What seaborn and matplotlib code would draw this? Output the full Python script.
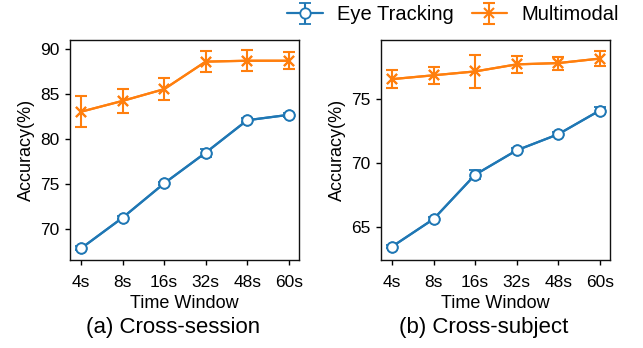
import numpy as np
import pandas as pd
import seaborn as sns
import matplotlib
matplotlib.use("Agg")
import matplotlib.pyplot as plt

windows = ["4s", "8s", "16s", "32s", "48s", "60s"]

eye_session = [67.9, 71.3, 75.1, 78.5, 82.1, 82.7]
eye_session_err = [0.2, 0.2, 0.2, 0.45, 0.2, 0.2]
mm_session = [83.05, 84.25, 85.55, 88.6, 88.7, 88.7]
mm_session_err = [1.75, 1.3, 1.2, 1.2, 1.15, 0.95]

eye_subject = [63.5, 65.65, 69.1, 71.0, 72.25, 74.1]
eye_subject_err = [0.15, 0.15, 0.35, 0.15, 0.15, 0.3]
mm_subject = [76.55, 76.85, 77.15, 77.7, 77.8, 78.15]
mm_subject_err = [0.68, 0.65, 1.3, 0.68, 0.5, 0.6]

sns.set_style("ticks")
plt.rcParams["font.family"] = ["Liberation Sans", "DejaVu Sans"]
plt.rcParams["text.color"] = "black"
plt.rcParams["axes.labelcolor"] = "black"

blue = "#1f77b4"
orange = "#ff7f0e"

fig = plt.figure(figsize=(6.43, 3.48), dpi=100)
ax1 = fig.add_axes([70/643, 1 - 260/348, 229/643, 220/348])
ax2 = fig.add_axes([381/643, 1 - 260/348, 229/643, 220/348])

panels = [
    (ax1, eye_session, eye_session_err, mm_session, mm_session_err,
     (66.6, 91.0), [70, 75, 80, 85, 90], "(a) Cross-session", 173),
    (ax2, eye_subject, eye_subject_err, mm_subject, mm_subject_err,
     (62.45, 79.6), [65, 70, 75], "(b) Cross-subject", 484),
]

handles = []
for ax, ey, ee, my, me, ylim, yt, title, tx in panels:
    df = pd.DataFrame({"x": np.arange(len(windows)), "eye": ey, "mm": my})
    sns.lineplot(data=df, x="x", y="eye", ax=ax, color=blue, lw=1.6,
                 marker="o", markersize=7.5, markerfacecolor="white",
                 markeredgecolor=blue, markeredgewidth=1.3, zorder=3)
    sns.lineplot(data=df, x="x", y="mm", ax=ax, color=orange, lw=1.6,
                 marker="x", markersize=7.5, markeredgewidth=1.5,
                 markeredgecolor=orange, zorder=3)
    h1 = ax.errorbar(df["x"], df["eye"], yerr=ee, fmt="-o", color=blue,
                     capsize=4, elinewidth=1.5, capthick=1.5, lw=1.6,
                     markersize=7.5, markerfacecolor="white", markeredgewidth=1.3,
                     zorder=2)
    h2 = ax.errorbar(df["x"], df["mm"], yerr=me, fmt="-x", color=orange,
                     capsize=4, elinewidth=1.5, capthick=1.5, lw=1.6,
                     markersize=7.5, markeredgewidth=1.5, zorder=2)
    handles = [h1, h2]
    ax.set_xlim(-0.27, 5.25)
    ax.set_ylim(*ylim)
    ax.set_yticks(yt)
    ax.set_xticks(np.arange(len(windows)))
    ax.set_xticklabels(windows)
    ax.tick_params(labelsize=12.5, length=3.5, width=1, colors="black",
                   labelcolor="black")
    ax.tick_params(axis="x", pad=7)
    ax.tick_params(axis="y", pad=4)
    for s in ax.spines.values():
        s.set_color("#111111")
        s.set_linewidth(1.0)
    ax.set_ylabel("Accuracy(%)", fontsize=13, labelpad=4)
    ax.set_xlabel("")
    fig.text(((ax.get_position().x0 + ax.get_position().x1) / 2),
             1 - 303 / 348, "Time Window", ha="center", va="center",
             fontsize=13)
    fig.text(tx / 643, 1 - 327 / 348, title, ha="center", va="center",
             fontsize=16)

fig.legend(handles, ["Eye Tracking", "Multimodal"], loc="center",
           bbox_to_anchor=(453/643, 1 - 15/348), ncol=2, frameon=False,
           fontsize=14.5, handlelength=1.75, columnspacing=0.9, handletextpad=0.7,
           borderaxespad=0, borderpad=0)

fig.savefig("out.png", dpi=100)
